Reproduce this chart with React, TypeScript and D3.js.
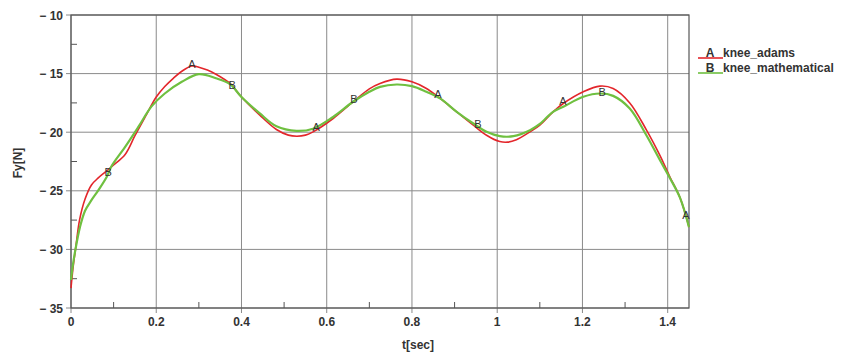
import React from "react";
import * as d3 from "d3";

const tAdams = [0, 0.005, 0.012, 0.02, 0.033, 0.048, 0.064, 0.084, 0.1, 0.127, 0.15, 0.174, 0.2, 0.22, 0.24, 0.26, 0.283, 0.3, 0.32, 0.34, 0.373, 0.4, 0.443, 0.482, 0.51, 0.53, 0.55, 0.568, 0.615, 0.662, 0.7, 0.725, 0.764, 0.8, 0.834, 0.866, 0.905, 0.944, 0.975, 1.006, 1.025, 1.045, 1.077, 1.1, 1.131, 1.155, 1.202, 1.241, 1.272, 1.311, 1.35, 1.382, 1.405, 1.429, 1.45];
const fAdams = [-33.3, -31.5, -29.6, -27.5, -25.7, -24.5, -23.9, -23.3, -22.8, -21.9, -20.3, -18.7, -17.0, -16.1, -15.4, -14.8, -14.35, -14.45, -14.7, -15.05, -15.84, -17.0, -18.55, -19.77, -20.25, -20.34, -20.25, -19.97, -18.83, -17.4, -16.3, -15.84, -15.47, -15.7, -16.27, -17.12, -18.26, -19.4, -20.26, -20.8, -20.85, -20.65, -19.97, -19.4, -18.26, -17.55, -16.55, -16.07, -16.27, -17.5, -19.8, -22.0, -23.8, -25.6, -28.1];

const tMath = [0, 0.005, 0.01, 0.021, 0.033, 0.048, 0.064, 0.084, 0.095, 0.127, 0.158, 0.189, 0.22, 0.26, 0.3, 0.34, 0.373, 0.4, 0.443, 0.482, 0.529, 0.568, 0.615, 0.662, 0.7, 0.725, 0.764, 0.8, 0.834, 0.866, 0.905, 0.944, 0.975, 1.006, 1.038, 1.077, 1.1, 1.131, 1.155, 1.202, 1.241, 1.272, 1.311, 1.35, 1.382, 1.405, 1.429, 1.45];
const fMath = [-32.6, -31.2, -30.1, -28.1, -26.7, -25.8, -24.96, -23.8, -22.9, -21.25, -19.55, -17.8, -16.7, -15.7, -15.05, -15.4, -15.9, -17.0, -18.4, -19.5, -19.89, -19.7, -18.7, -17.4, -16.55, -16.13, -15.93, -16.07, -16.55, -17.12, -18.26, -19.26, -19.97, -20.34, -20.34, -19.83, -19.3, -18.26, -17.83, -16.98, -16.7, -16.9, -17.98, -20.26, -22.4, -23.9, -25.6, -28.1];

const markA = [0.284, 0.575, 0.861, 1.154, 1.443];
const markB = [0.087, 0.378, 0.664, 0.955, 1.246];

const xTicks = [0, 0.2, 0.4, 0.6, 0.8, 1, 1.2, 1.4];
const xMinor = [0.1, 0.3, 0.5, 0.7, 0.9, 1.1, 1.3];
const yTicks = [-10, -15, -20, -25, -30, -35];
const yMinor = [-12.5, -17.5, -22.5, -27.5, -32.5];

const seriesNames = ["knee_adams", "knee_mathematical"];
const seriesLetters = ["A", "B"];
const colors = ["#e3262b", "#6fc040"];

const W = 850, H = 354;
const L = 71, R = 689, T = 15, B = 308;

export default function App() {
  const x = d3.scaleLinear().domain([0, 1.45]).range([L, R]);
  const y = d3.scaleLinear().domain([-35, -10]).range([B, T]);
  const line = d3.line<[number, number]>().x(d => x(d[0])).y(d => y(d[1])).curve(d3.curveCatmullRom.alpha(0.5));
  const ptsA: [number, number][] = tAdams.map((t, i) => [t, fAdams[i]]);
  const ptsB: [number, number][] = tMath.map((t, i) => [t, fMath[i]]);
  const interp = (ts: number[], fs: number[], t: number) => {
    const i = Math.max(1, d3.bisectLeft(ts, t));
    const t0 = ts[i - 1], t1 = ts[i];
    const k = (t - t0) / (t1 - t0);
    return fs[i - 1] + k * (fs[i] - fs[i - 1]);
  };
  const font = "Arial, 'Liberation Sans', sans-serif";
  const fmtY = (v: number) => "\u2212 " + Math.abs(v);
  return (
    <svg width={W} height={H} style={{ position: "absolute", left: 0, top: 0, background: "#fff" }} fontFamily={font}>
      <rect x={0} y={0} width={W} height={H} fill="#fff" />
      {xTicks.map(v => (
        <line key={"gx" + v} x1={x(v)} x2={x(v)} y1={T} y2={B + 5} stroke="#8a8a8a" strokeWidth={1} />
      ))}
      {yTicks.map(v => (
        <line key={"gy" + v} x1={L - 5} x2={R} y1={y(v)} y2={y(v)} stroke="#8a8a8a" strokeWidth={1} />
      ))}
      {xMinor.map(v => (
        <line key={"mx" + v} x1={x(v)} x2={x(v)} y1={B} y2={B - 6} stroke="#555" strokeWidth={1} />
      ))}
      {yMinor.map(v => (
        <line key={"my" + v} x1={L} x2={L + 6} y1={y(v)} y2={y(v)} stroke="#555" strokeWidth={1} />
      ))}
      <rect x={L} y={T} width={R - L} height={B - T} fill="none" stroke="#555" strokeWidth={1.2} />
      {xTicks.map(v => (
        <text key={"xl" + v} x={x(v)} y={326} textAnchor="middle" fontSize={12} fontWeight="bold" fill="#333">{String(v)}</text>
      ))}
      {yTicks.map(v => (
        <text key={"yl" + v} x={63} y={y(v) + 4.5} textAnchor="end" fontSize={12} fontWeight="bold" fill="#333">{fmtY(v)}</text>
      ))}
      <text x={418} y={349} textAnchor="middle" fontSize={12} fontWeight="bold" fill="#333">t[sec]</text>
      <text transform={`translate(22,${163}) rotate(-90)`} textAnchor="middle" fontSize={12} fontWeight="bold" fill="#333">Fy[N]</text>
      <path d={line(ptsA) || ""} fill="none" stroke={colors[0]} strokeWidth={1.6} />
      <path d={line(ptsB) || ""} fill="none" stroke={colors[1]} strokeWidth={2.2} />
      {markA.map(t => (
        <text key={"ma" + t} x={x(t)} y={y(interp(tAdams, fAdams, t)) + 1.5} textAnchor="middle" fontSize={11} fill="#333">A</text>
      ))}
      {markB.map(t => (
        <text key={"mb" + t} x={x(t)} y={y(interp(tMath, fMath, t)) + 2} textAnchor="middle" fontSize={11} fill="#333">B</text>
      ))}
      {seriesNames.map((n, i) => (
        <g key={n}>
          <line x1={698} x2={723} y1={58 + i * 15} y2={58 + i * 15} stroke={colors[i]} strokeWidth={1.6} />
          <text x={710} y={57 + i * 15} textAnchor="middle" fontSize={12} fontWeight="bold" fill="#333">{seriesLetters[i]}</text>
          <text x={723} y={57 + i * 15} fontSize={12} fontWeight="bold" fill="#333">{n}</text>
        </g>
      ))}
    </svg>
  );
}
